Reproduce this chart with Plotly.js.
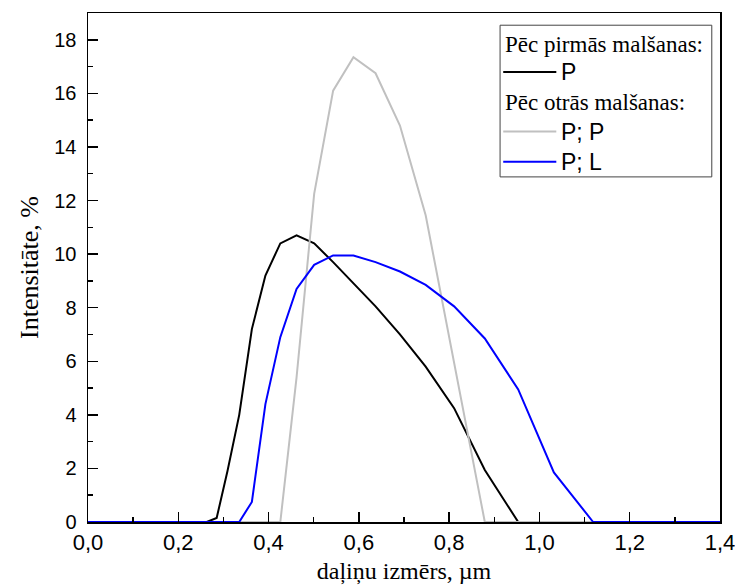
<!DOCTYPE html>
<html>
<head>
<meta charset="utf-8">
<script src="https://cdn.plot.ly/plotly-3.0.1.min.js"></script>
<style>html,body{margin:0;padding:0;background:#fff;}#chart{width:735px;height:587px;}</style>
</head>
<body>
<div id="chart"></div>
<script>
// Particle size (µm), log-spaced bins
const sizes = [0, 0.263, 0.285, 0.309, 0.335, 0.363, 0.393, 0.426, 0.462, 0.501, 0.543, 0.588, 0.637, 0.691, 0.748, 0.811, 0.879, 0.953, 1.032, 1.119, 1.4];
// Intensity, %
const seriesP  = [0, 0, 0.15, 1.9, 4.0, 7.2, 9.2, 10.4, 10.7, 10.4, 9.7, 8.9, 8.05, 7.0, 5.8, 4.25, 1.94, 0, 0, 0, 0];
const seriesPP = [0, 0, 0, 0, 0, 0, 0, 0, 5.4, 12.25, 16.1, 17.35, 16.75, 14.8, 11.45, 6.0, 0, 0, 0, 0, 0];
const seriesPL = [0, 0, 0, 0, 0, 0.75, 4.4, 6.9, 8.7, 9.6, 9.95, 9.95, 9.7, 9.35, 8.85, 8.05, 6.85, 4.95, 1.85, 0, 0];
const names = ['P', 'P; P', 'P; L'];
const colors = ['#000000', '#c0c0c0', '#0000ff'];
const groupTitles = ['Pēc pirmās malšanas:', 'Pēc otrās malšanas:'];
const xTickVals = [0, 0.2, 0.4, 0.6, 0.8, 1.0, 1.2, 1.4];
const xTickText = ['0,0', '0,2', '0,4', '0,6', '0,8', '1,0', '1,2', '1,4'];
const yTickVals = [0, 2, 4, 6, 8, 10, 12, 14, 16, 18];

const serif = 'Liberation Serif, Times New Roman, serif';
const sans = 'Liberation Sans, Arial, sans-serif';

const series = [seriesP, seriesPP, seriesPL];
const traces = series.map((s, i) => ({
  x: sizes, y: s, name: names[i], mode: 'lines',
  line: {color: colors[i], width: 2}, showlegend: false
}));

// Custom legend (paper coordinates): rows = header, entry, header, entry, entry
const lgX0 = 0.652, lgX1 = 0.987, lgY0 = 0.678, lgY1 = 0.976;
const rowY = [0.938, 0.884, 0.825, 0.767, 0.708];
const symX0 = 0.657, symX1 = 0.741, txtX = 0.745;
const rows = [
  {type: 'title', text: groupTitles[0]},
  {type: 'item', idx: 0},
  {type: 'title', text: groupTitles[1]},
  {type: 'item', idx: 1},
  {type: 'item', idx: 2}
];
const shapes = [{type: 'rect', xref: 'paper', yref: 'paper', x0: lgX0, x1: lgX1, y0: lgY0, y1: lgY1,
  line: {color: '#444', width: 1}, fillcolor: '#fff', layer: 'above'}];
const annotations = [];
rows.forEach((r, k) => {
  if (r.type === 'title') {
    annotations.push({xref: 'paper', yref: 'paper', x: symX0, y: rowY[k], xanchor: 'left', yanchor: 'middle',
      text: r.text, showarrow: false, font: {family: serif, size: 23, color: '#000'}});
  } else {
    shapes.push({type: 'line', xref: 'paper', yref: 'paper', x0: symX0, x1: symX1, y0: rowY[k], y1: rowY[k],
      line: {color: colors[r.idx], width: 2}, layer: 'above'});
    annotations.push({xref: 'paper', yref: 'paper', x: txtX, y: rowY[k], xanchor: 'left', yanchor: 'middle',
      text: names[r.idx], showarrow: false, font: {family: sans, size: 23, color: '#000'}});
  }
});

const layout = {
  width: 735, height: 587,
  margin: {l: 88, r: 15, t: 13, b: 65},
  paper_bgcolor: '#fff', plot_bgcolor: '#fff',
  showlegend: false,
  shapes: shapes,
  annotations: annotations,
  xaxis: {
    range: [0, 1.4], showgrid: false, zeroline: false,
    showline: true, linecolor: '#000', linewidth: 1.5, mirror: true,
    ticks: 'inside', ticklen: 10, tickwidth: 1.5, tickcolor: '#000',
    tickvals: xTickVals, ticktext: xTickText, ticklabeloverflow: 'allow',
    tickfont: {family: sans, size: 22, color: '#000'},
    minor: {dtick: 0.1, ticks: 'inside', ticklen: 5, tickwidth: 1.5, tickcolor: '#000', showgrid: false},
    title: {text: 'daļiņu izmērs, µm', font: {family: serif, size: 24, color: '#000'}, standoff: 8}
  },
  yaxis: {
    range: [0, 19], showgrid: false, zeroline: false,
    showline: true, linecolor: '#000', linewidth: 1.5, mirror: true,
    ticks: 'inside', ticklen: 10, tickwidth: 1.5, tickcolor: '#000',
    tickvals: yTickVals,
    tickfont: {family: sans, size: 20, color: '#000'},
    ticklabelstandoff: 6,
    minor: {dtick: 1, ticks: 'inside', ticklen: 5, tickwidth: 1.5, tickcolor: '#000', showgrid: false},
    title: {text: 'Intensitāte, %', font: {family: serif, size: 26, color: '#000'}, standoff: 8}
  }
};

Plotly.newPlot('chart', traces, layout, {displayModeBar: false, staticPlot: true});
</script>
</body>
</html>
